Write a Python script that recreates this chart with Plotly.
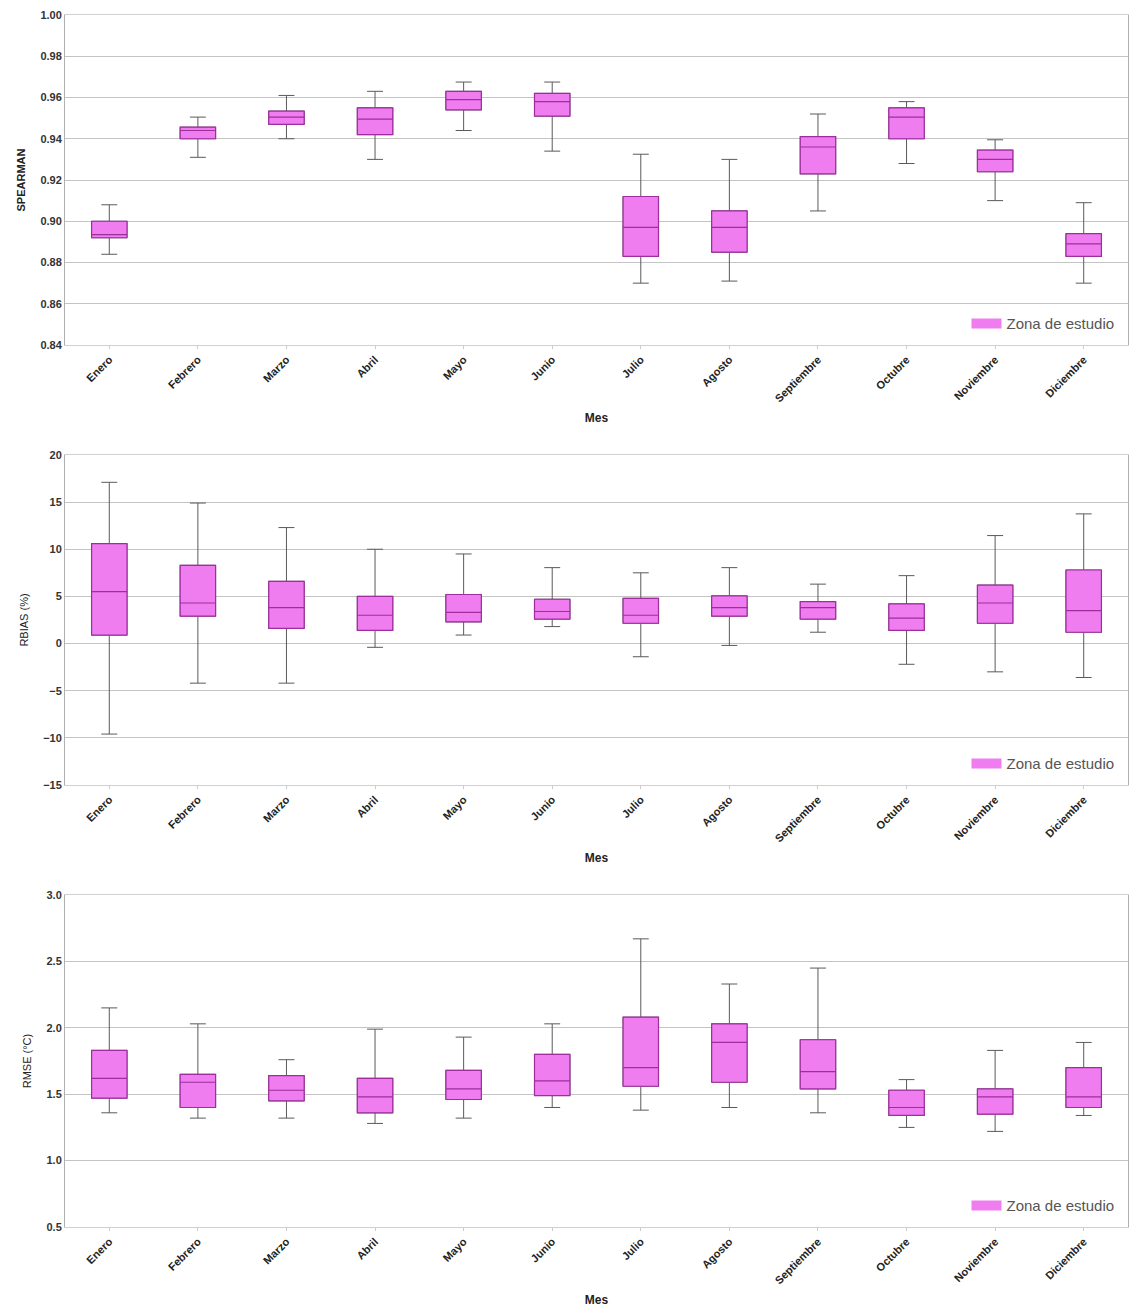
import plotly.graph_objects as go

months = ["Enero", "Febrero", "Marzo", "Abril", "Mayo", "Junio", "Julio",
          "Agosto", "Septiembre", "Octubre", "Noviembre", "Diciembre"]

# SPEARMAN
sp_low = [0.884, 0.931, 0.940, 0.930, 0.944, 0.934, 0.870, 0.871, 0.905, 0.928, 0.910, 0.870]
sp_q1 = [0.892, 0.940, 0.947, 0.942, 0.954, 0.951, 0.883, 0.885, 0.923, 0.940, 0.924, 0.883]
sp_med = [0.8935, 0.944, 0.9505, 0.9495, 0.959, 0.958, 0.897, 0.897, 0.936, 0.9505, 0.930, 0.889]
sp_q3 = [0.900, 0.9456, 0.9534, 0.955, 0.963, 0.962, 0.912, 0.905, 0.941, 0.955, 0.9345, 0.894]
sp_high = [0.908, 0.9505, 0.961, 0.963, 0.9675, 0.9675, 0.9325, 0.930, 0.952, 0.958, 0.9395, 0.909]

# RBIAS (%)
rb_low = [-9.6, -4.2, -4.2, -0.4, 0.9, 1.8, -1.4, -0.2, 1.2, -2.2, -3.0, -3.6]
rb_q1 = [0.9, 2.9, 1.6, 1.4, 2.3, 2.6, 2.15, 2.9, 2.6, 1.4, 2.15, 1.2]
rb_med = [5.5, 4.3, 3.8, 3.0, 3.3, 3.4, 3.0, 3.8, 3.8, 2.7, 4.3, 3.5]
rb_q3 = [10.6, 8.3, 6.6, 5.0, 5.2, 4.7, 4.8, 5.05, 4.45, 4.2, 6.2, 7.8]
rb_high = [17.1, 14.9, 12.3, 10.0, 9.5, 8.05, 7.5, 8.05, 6.3, 7.2, 11.45, 13.75]

# RMSE (°C)
rm_low = [1.36, 1.32, 1.32, 1.28, 1.32, 1.40, 1.38, 1.40, 1.36, 1.25, 1.22, 1.34]
rm_q1 = [1.47, 1.40, 1.45, 1.36, 1.46, 1.49, 1.56, 1.59, 1.54, 1.34, 1.35, 1.40]
rm_med = [1.62, 1.59, 1.53, 1.48, 1.54, 1.60, 1.70, 1.89, 1.67, 1.40, 1.48, 1.48]
rm_q3 = [1.83, 1.65, 1.64, 1.62, 1.68, 1.80, 2.08, 2.03, 1.91, 1.53, 1.54, 1.70]
rm_high = [2.15, 2.03, 1.76, 1.99, 1.93, 2.03, 2.67, 2.33, 2.45, 1.61, 1.83, 1.89]

panels = [
    (sp_low, sp_q1, sp_med, sp_q3, sp_high, "SPEARMAN", [0.84, 1.00], 0.02, ".2f"),
    (rb_low, rb_q1, rb_med, rb_q3, rb_high, "RBIAS (%)", [-15, 20], 5, "d"),
    (rm_low, rm_q1, rm_med, rm_q3, rm_high, "RMSE (°C)", [0.5, 3.0], 0.5, ".1f"),
]

FILL = "#f07df0"
WHISK = "#5a5a5a"
MED = "#9c2f9c"
GRID = "#c4c4c4"

fig = go.Figure()

domains = [[0.7277, 1.0], [0.3647, 0.637], [0.0, 0.2739]]
legend_names = ["legend", "legend2", "legend3"]

for i, (lo, q1, med, q3, hi, ytitle, yr, dt, fmt) in enumerate(panels):
    xa = "x" if i == 0 else f"x{i+1}"
    ya = "y" if i == 0 else f"y{i+1}"
    # whiskers
    fig.add_trace(go.Box(
        x=months, q1=q1, median=med, q3=q3, lowerfence=lo, upperfence=hi,
        xaxis=xa, yaxis=ya, width=0.4, whiskerwidth=0.45,
        line=dict(color=WHISK, width=1), fillcolor=FILL,
        showlegend=False, hoverinfo="skip", boxpoints=False,
    ))
    # box body + median
    fig.add_trace(go.Box(
        x=months, q1=q1, median=med, q3=q3, lowerfence=q1, upperfence=q3,
        xaxis=xa, yaxis=ya, width=0.4, whiskerwidth=0,
        line=dict(color=MED, width=1.2), fillcolor=FILL,
        name="Zona de estudio", showlegend=False, boxpoints=False,
    ))
    # legend entry (wide flat swatch)
    fig.add_trace(go.Scatter(
        x=[None], y=[None], xaxis=xa, yaxis=ya, mode="lines",
        line=dict(color=FILL, width=10), name="Zona de estudio",
        showlegend=True, legend=legend_names[i], hoverinfo="skip",
    ))

layout = dict(
    width=1130, height=1311,
    margin=dict(l=65, r=2, t=15, b=84),
    paper_bgcolor="white", plot_bgcolor="white",
    boxmode="overlay",
    font=dict(family="Liberation Sans, Arial", size=11, color="#333"),
)

for i, (lo, q1, med, q3, hi, ytitle, yr, dt, fmt) in enumerate(panels):
    xk = "xaxis" if i == 0 else f"xaxis{i+1}"
    yk = "yaxis" if i == 0 else f"yaxis{i+1}"
    ya = "y" if i == 0 else f"y{i+1}"
    xa = "x" if i == 0 else f"x{i+1}"
    layout[xk] = dict(
        anchor=ya, domain=[0, 1], type="category",
        categoryorder="array", categoryarray=months,
        range=[-0.5, 11.5], tickangle=-45, automargin=False,
        tickfont=dict(size=11, color="#222", family="Liberation Sans, Arial", weight="bold"),
        ticks="outside", ticklen=3, tickcolor="#cccccc",
        showgrid=False, showline=True, linecolor="#d0d0d0", mirror=True,
        title=dict(text="<b>Mes</b>", font=dict(size=12, color="#222"), standoff=10),
    )
    layout[yk] = dict(
        anchor=xa, domain=domains[i], range=yr, dtick=dt, tick0=yr[0],
        tickformat=fmt, showgrid=True, gridcolor=GRID, gridwidth=1,
        zeroline=False, showline=True, linecolor="#b0b0b0", mirror=True,
        ticks="", automargin=False,
        tickfont=dict(size=11, color="#333", weight="bold"),
        title=dict(text=(f"<b>{ytitle}</b>" if i == 0 else ytitle),
                   font=dict(size=11, color="#222"), standoff=12),
    )
    layout[legend_names[i]] = dict(
        x=0.992, xanchor="right", y=domains[i][0] + 0.004, yanchor="bottom",
        bgcolor="rgba(255,255,255,0.9)", borderwidth=0,
        font=dict(size=15, color="#555"), itemwidth=30,
    )

fig.update_layout(**layout)
fig.write_html("out.html", config={"displayModeBar": False},
               post_script="document.body.style.margin='0';")
